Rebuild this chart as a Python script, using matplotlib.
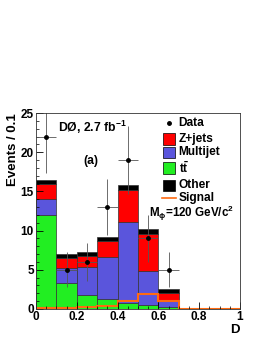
import matplotlib
matplotlib.use("Agg")
import matplotlib.pyplot as plt
import numpy as np
from matplotlib.patches import Rectangle

plt.rcParams['font.family'] = ['Liberation Sans', 'DejaVu Sans']
plt.rcParams['font.weight'] = 'bold'
plt.rcParams['axes.labelweight'] = 'bold'
plt.rcParams['mathtext.fontset'] = 'custom'
plt.rcParams['mathtext.rm'] = 'Liberation Sans:bold'
plt.rcParams['mathtext.it'] = 'Liberation Sans:bold'
plt.rcParams['mathtext.bf'] = 'Liberation Sans:bold'

edges = np.round(np.arange(0, 1.01, 0.1), 2)
centers = edges[:-1] + 0.05
ttbar = [12.0, 3.3, 1.8, 1.3, 0.8, 0.5, 0.2, 0, 0, 0]
multijet = [2.1, 1.9, 3.6, 5.3, 10.3, 4.3, 0.8, 0, 0, 0]
zjets = [1.8, 1.3, 1.4, 2.1, 4.05, 4.75, 1.05, 0, 0, 0]
other = [0.6, 0.5, 0.5, 0.5, 0.7, 0.6, 0.55, 0, 0, 0]
signal = [0.15, 0.15, 0.3, 0.43, 0.95, 1.85, 0.95, 0, 0, 0]
data = [22, 5, 6, 13, 19, 9, 5]
xtick_vals = [0, 0.2, 0.4, 0.6, 0.8, 1]
xtick_labels = ['0', '0.2', '0.4', '0.6', '0.8', '1']
ytick_vals = [0, 5, 10, 15, 20, 25]

C_TT, C_MJ, C_Z, C_OT, C_SIG = '#22ee22', '#5a55dc', '#ff0000', '#000000', '#ff6a10'

fig = plt.figure(figsize=(2.66, 3.44), dpi=100)
ax = fig.add_axes([0.135, 0.102, 0.767, 0.569])

comps = [(ttbar, C_TT), (multijet, C_MJ), (zjets, C_Z), (other, C_OT)]
bottom = np.zeros(10)
for vals, col in comps:
    vals = np.array(vals)
    ax.bar(edges[:-1], vals, width=0.1, bottom=bottom, align='edge', color=col,
           edgecolor='#333333', linewidth=0.5)
    bottom = bottom + vals

ax.stairs(signal, edges, color=C_SIG, linewidth=1.5)

d = np.array(data, dtype=float)
ax.errorbar(centers[:len(d)], d, yerr=np.sqrt(d), xerr=0.05, fmt='o', color='black',
            ms=2.5, ecolor='#555555', elinewidth=0.6, capsize=0)

ax.set_xlim(0, 1)
ax.set_ylim(0, 25)
ax.set_xticks(xtick_vals)
ax.set_xticklabels(xtick_labels, fontweight='bold')
ax.set_yticks(ytick_vals)
ax.set_yticklabels([str(v) for v in ytick_vals], fontweight='bold')
ax.set_xticks(np.arange(0, 1.01, 0.05), minor=True)
ax.set_yticks(np.arange(0, 25.1, 1), minor=True)
ax.tick_params(direction='in', labelsize=8.5, length=5, width=0.6, pad=1.5)
ax.tick_params(which='minor', direction='in', length=2.5, width=0.5)
for s in ax.spines.values():
    s.set_linewidth(0.6)
    s.set_color('#333333')

ax.set_ylabel('Events / 0.1', loc='top', fontsize=9.5, labelpad=1, fontweight='bold')
ax.set_xlabel('D', loc='right', fontsize=9.5, labelpad=1, fontweight='bold')

ax.text(0.11, 0.905, 'DØ, 2.7 fb$^{-1}$', transform=ax.transAxes, fontsize=8.8,
        fontweight='bold')
ax.text(0.235, 0.74, '(a)', transform=ax.transAxes, fontsize=8.8, fontweight='bold')

# manual legend (axes coordinates)
rows = [0.952, 0.868, 0.80, 0.72, 0.632, 0.565]
labels = ['Data', 'Z+jets', 'Multijet', r't$\bar{\mathrm{t}}$', 'Other', 'Signal']
bx0, bw, bh = 0.625, 0.058, 0.058
ax.plot([bx0 + bw / 2], [rows[0]], 'o', color='black', ms=2.5, transform=ax.transAxes,
        clip_on=False)
for r, col in zip(rows[1:5], [C_Z, C_MJ, C_TT, C_OT]):
    ax.add_patch(Rectangle((bx0, r - bh / 2), bw, bh, transform=ax.transAxes,
                           facecolor=col, edgecolor='black', linewidth=0.5, clip_on=False))
ax.plot([bx0 - 0.005, bx0 + bw + 0.005], [rows[5], rows[5]], color=C_SIG, lw=1.2,
        transform=ax.transAxes, clip_on=False)
for r, lab in zip(rows, labels):
    ax.text(0.70, r, lab, transform=ax.transAxes, fontsize=8.6, va='center', ha='left',
            fontweight='bold')
ax.text(0.555, 0.488, r'M$_{\phi}$=120 GeV/c$^{2}$', transform=ax.transAxes, fontsize=8.4,
        va='center', ha='left', fontweight='bold')

fig.savefig('out.png', dpi=100)
